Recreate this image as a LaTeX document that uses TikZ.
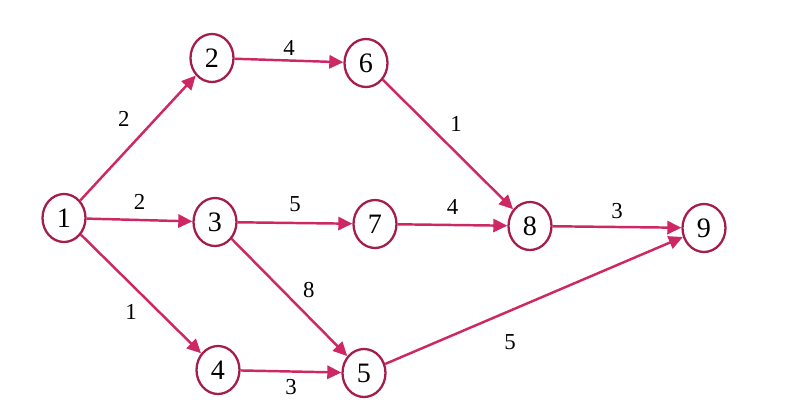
\documentclass[tikz,border=0pt]{standalone}
\usepackage{fontspec}
\setmainfont{Liberation Serif}
\usetikzlibrary{arrows.meta,shapes.geometric}
\definecolor{arcred}{RGB}{205,40,100}
\definecolor{ringred}{RGB}{165,30,75}
\begin{document}
\begin{tikzpicture}[
		x=0.02cm, y=0.02cm,
		event/.style={draw=ringred, ellipse, line width=1.3pt, minimum width=0.86cm, minimum height=0.96cm, inner sep=0pt, font=\fontsize{16}{18}\selectfont},
		activity/.style={draw=arcred, line width=1.4pt, -{Triangle[length=8pt,width=7.5pt]}},
		dur/.style={font=\fontsize{13}{15}\selectfont, inner sep=2pt}
		]
		\useasboundingbox (0,0) rectangle (806,417);
		
		% events
		\node[event] (n1) at (64,199) {1};
		\node[event] (n2) at (212,359) {2};
		\node[event] (n6) at (366,354) {6};
		\node[event] (n3) at (215,195) {3};
		\node[event] (n7) at (375,193) {7};
		\node[event] (n8) at (530,191) {8};
		\node[event] (n9) at (704,189) {9};
		\node[event] (n4) at (218,47) {4};
		\node[event] (n5) at (364,44) {5};
		
		% activities
		\draw[activity] (n1) -- node[dur, pos=0.65, left=12pt] {2} (n2);
		\draw[activity] (n2) -- node[dur, above] {4} (n6);
		\draw[activity] (n6) -- node[dur, pos=0.34, right=10.5pt] {1} (n8);
		\draw[activity] (n1) -- node[dur, pos=0.5, above=3pt] {2} (n3);
		\draw[activity] (n3) -- node[dur, above=4pt] {5} (n7);
		\draw[activity] (n7) -- node[dur, above=3pt] {4} (n8);
		\draw[activity] (n8) -- node[dur, above=2pt] {3} (n9);
		\draw[activity] (n3) -- node[dur, pos=0.44, right=9pt] {8} (n5);
		\draw[activity] (n1) -- node[dur, pos=0.65, left=10pt] {1} (n4);
		\draw[activity] (n4) -- node[dur, below=2pt] {3} (n5);
		\draw[activity] (n5) -- node[dur, pos=0.42, below=11pt] {5} (n9);
\end{tikzpicture}
\end{document}
